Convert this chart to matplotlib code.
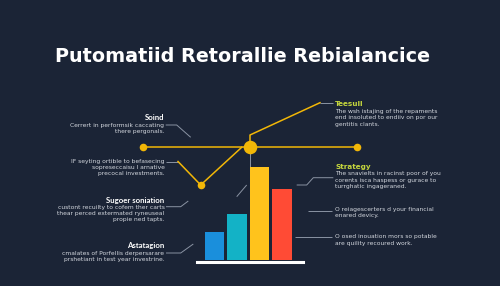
import matplotlib
matplotlib.use('Agg')
import matplotlib.pyplot as plt

# data
bar_labels = ['A', 'B', 'C', 'D']
bar_values = [28, 46, 93, 71]
bar_colors = ['#1a8fdc', '#13b2c6', '#ffc31c', '#ff4b35']

title = 'Putomatiid Retorallie Rebialancice'

left_notes = [
    ('Soind', ['Cerrert in performsik caccating', 'there pergonals.'], 118),
    (None, ['IF seyting ortible to befasecing', 'sopreseccaisu l arnative', 'precocal investments.'], 161.5),
    ('Sugoer soniation', ['custont recuilty to cofem ther carts', 'thear perced extermated ryneuseal', 'propie ned tapts.'], 200),
    ('Astatagion', ['cmalates of Porfellis derpersarare', 'prshetiant in test year investrine.'], 245.5),
]
right_notes = [
    ('Teesull', ['The wsh istajing of the repaments', 'end insoluted to endiiv on por our', 'gentitis clants.'], 104),
    ('Strategy', ['The snavielts in racinst poor of you', 'corents isca haspess or gurace to', 'turrghatic ingageraned.'], 166.5),
    (None, ['O reiagescerters d your financial', 'enared devicy.'], 209),
    (None, ['O osed inouation mors so potable', 'are quility recoured work.'], 236.5),
]

bg = '#1b2436'
yel = '#f2b707'
gray = '#8a93a3'

fig = plt.figure(figsize=(5, 2.86), dpi=100, facecolor=bg)

# overlay axes in pixel coordinates
ov = fig.add_axes([0, 0, 1, 1])
ov.set_xlim(0, 500)
ov.set_ylim(286, 0)
ov.axis('off')
ov.set_facecolor(bg)

ov.text(242.5, 57, title, color='white', fontsize=13.8, fontweight='bold',
        ha='center', va='center', family='DejaVu Sans')

# bar chart axes
bx = fig.add_axes([196.7 / 500, 1 - 260 / 286, 106 / 500, 100 / 286])
bx.set_xlim(-0.79, 3.92)
bx.set_ylim(0, 100)
bx.axis('off')
bx.bar(range(len(bar_values)), bar_values, width=0.88, color=bar_colors)
bx.axhline(-1.5, color='white', lw=2.2, clip_on=False)

# gray connector lines
conn = [
    [(165.7, 125), (176.7, 125), (190.7, 137.3)],
    [(166, 206.7), (180.7, 206.7), (188.3, 201)],
    [(166, 253), (180.7, 253), (193.3, 244)],
    [(236.7, 196.7), (246.7, 185)],
    [(250, 150), (250, 166.5)],
    [(296.7, 185), (306.7, 185), (313.3, 177.7), (333.3, 177.7)],
    [(308.3, 210.7), (331.7, 210.7)],
    [(295, 237.3), (331.7, 237.3)],
    [(320, 102.7), (333, 102.7)],
    [(166, 161.5), (178, 161.5)],
]
for c in conn:
    xs, ys = zip(*c)
    ov.plot(xs, ys, color=gray, lw=0.7, solid_capstyle='butt')

# yellow lines
ov.plot([142.7, 357], [147.3, 147.3], color=yel, lw=1.1)
ov.plot([320, 250, 250], [102.7, 135, 147], color=yel, lw=1.1)
ov.plot([178, 200.7, 241.7], [161.5, 185, 147.3], color=yel, lw=1.1)
ov.scatter([142.5, 357, 200.7], [147.3, 147, 185], s=30, color=yel, zorder=5, lw=0)
ov.scatter([250], [147.3], s=95, color=yel, zorder=5, lw=0)

# notes
fs = 4.3
for head, lines, y in left_notes:
    yy = y
    if head:
        ov.text(164.5, yy, head, color='white', fontsize=5.6, fontweight='bold',
                ha='right', va='center', family='Lato')
        yy += 7.5
    for ln in lines:
        ov.text(164.5, yy, ln, color='#d4d8df', fontsize=fs, ha='right', va='center')
        yy += 6.2

for head, lines, y in right_notes:
    yy = y
    if head:
        ov.text(335, yy, head, color='#c5d63d', fontsize=5.2, fontweight='bold',
                ha='left', va='center')
        yy += 7
    for ln in lines:
        ov.text(335, yy, ln, color='#d4d8df', fontsize=fs, ha='left', va='center')
        yy += 6.7

fig.savefig('out.png', dpi=100, facecolor=bg)
